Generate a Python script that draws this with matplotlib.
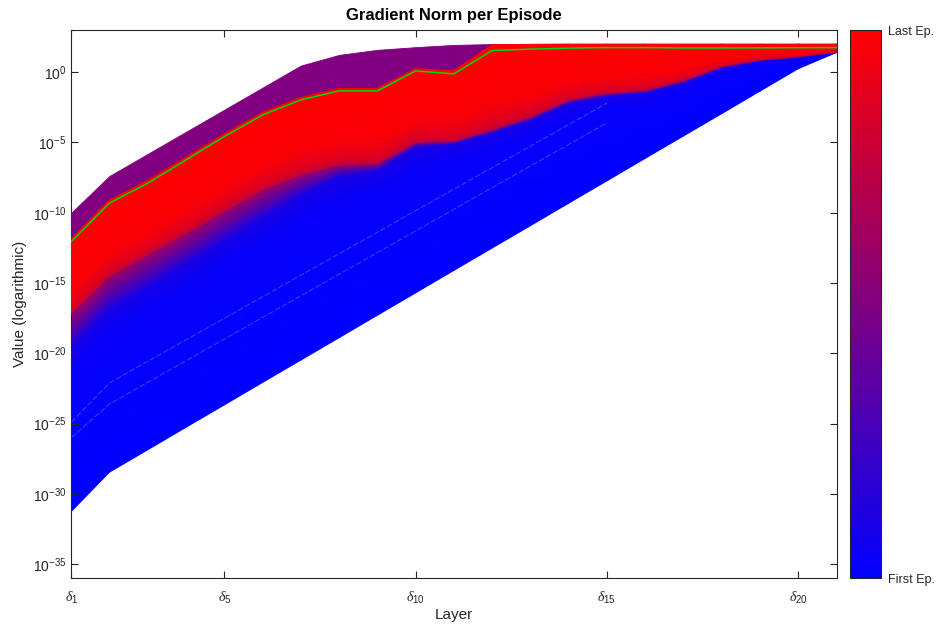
import numpy as np
import matplotlib
matplotlib.use("Agg")
import matplotlib as mpl
import matplotlib.pyplot as plt
from matplotlib.colors import LinearSegmentedColormap, Normalize
from matplotlib.ticker import NullLocator

plt.rcParams['font.family'] = ['Liberation Sans', 'DejaVu Sans']
plt.rcParams['mathtext.fontset'] = 'custom'
plt.rcParams['mathtext.rm'] = 'Liberation Sans'
plt.rcParams['mathtext.it'] = 'Liberation Serif:italic'
plt.rcParams['mathtext.bf'] = 'Liberation Sans:bold'

# ---------------- data (log10 of gradient norm per layer) ----------------
layers = np.arange(1, 22)
layer_ticks = [1, 5, 10, 15, 20]
layer_tick_labels = [r'$\delta_{\mathrm{%d}}$' % k for k in layer_ticks]
ytick_exponents = [0, -5, -10, -15, -20, -25, -30, -35]
ytick_labels = [r'$\mathrm{10^{%d}}$' % e for e in ytick_exponents]
colorbar_labels = ['First Ep.', 'Last Ep.']

# lowest curve (first episodes, blue)
first_ep_log10 = [-31.25, -28.45, -26.86, -25.26, -23.67, -22.07, -20.48,
                  -18.89, -17.29, -15.70, -14.10, -12.51, -10.92, -9.32,
                  -7.73, -6.13, -4.54, -2.95, -1.35, 0.25, 1.40]
# upper edge of the blue episodes / start of the mid (purple) episodes
mid_ep_low_log10 = [-19.5, -16.8, -15.2, -13.6, -11.9, -10.3, -8.7, -7.4,
                    -7.0, -5.3, -5.1, -4.3, -3.4, -2.2, -1.7, -1.45, -0.75,
                    0.3, 0.82, 1.07, 1.42]
# lower edge of the late (red) episodes
late_ep_low_log10 = [-17.2, -14.55, -13.0, -11.5, -9.9, -8.4, -7.3, -6.6,
                     -6.5, -5.0, -4.9, -4.1, -3.2, -2.0, -1.5, -1.3, -0.6,
                     0.4, 0.88, 1.11, 1.45]
# upper edge of the late (red) episodes
late_ep_high_log10 = [-11.85, -9.1, -7.7, -6.05, -4.4, -2.85, -1.8, -1.15,
                      -1.15, 0.25, 0.1, 1.95, 1.98, 2.0, 2.0, 2.0, 2.0, 2.0,
                      2.0, 2.0, 2.0]
# upper envelope of all episodes (mid episodes, purple)
all_ep_high_log10 = [-10.0, -7.38, -5.81, -4.24, -2.67, -1.1, 0.47, 1.23,
                     1.59, 1.78, 1.94, 2.0, 2.0, 2.0, 2.0, 2.0, 2.0, 2.0,
                     2.0, 2.0, 2.0]
# last episode (highlighted in green)
last_ep_log10 = [-12.06, -9.3, -7.9, -6.24, -4.58, -3.04, -1.97, -1.33,
                 -1.33, 0.09, -0.12, 1.54, 1.64, 1.71, 1.75, 1.75, 1.72,
                 1.72, 1.73, 1.74, 1.75]
# faint gaps between dense early-episode lines (light streaks)
streak_layers = [1, 2, 15]
streak_a_log10 = [-24.9, -22.1, -2.2]
streak_b_log10 = [-26.0, -23.6, -3.6]

# ---------------- figure ----------------
W, H = 938, 633
fig = plt.figure(figsize=(W / 100, H / 100), dpi=100)
ax_l, ax_r, ax_t, ax_b = 71.2, 836.5, 30.0, 578.3
ax = fig.add_axes([ax_l / W, 1 - ax_b / H, (ax_r - ax_l) / W, (ax_b - ax_t) / H])
ax.set_yscale('log')

cmap = LinearSegmentedColormap.from_list('episodes', [(0, 0, 1), (1, 0, 0)])
fg = '#262626'


def band(lo, hi, fracs, tvals, z):
    lo = np.asarray(lo, float)
    hi = np.asarray(hi, float)
    f = np.asarray(fracs, float)[:, None]
    Y = 10.0 ** (lo[None, :] + f * (hi - lo)[None, :])
    X = np.broadcast_to(layers, Y.shape).astype(float)
    C = np.broadcast_to(np.asarray(tvals, float)[:, None], Y.shape)
    ax.pcolormesh(X, Y, C, shading='gouraud', cmap=cmap, vmin=0, vmax=1,
                  zorder=z, antialiased=True)


# early (blue) episodes
band(first_ep_log10, mid_ep_low_log10, [0, 0.85, 1.0], [0.0, 0.02, 0.1], 1)
# faint streaks inside the blue region
for s in (streak_a_log10, streak_b_log10):
    ax.plot(streak_layers, 10.0 ** np.array(s), color='white', lw=0.7,
            alpha=0.25, ls=(0, (6, 2)), zorder=1.5)
# mid episodes below the red ones
band(mid_ep_low_log10, late_ep_low_log10, [0, 1.0], [0.12, 0.62], 2)
# mid episodes above the red ones (purple)
ax.fill_between(layers, 10.0 ** np.array(late_ep_low_log10),
                10.0 ** np.array(all_ep_high_log10),
                color=cmap(0.5), lw=0.6, edgecolor=cmap(0.5), zorder=3)
# late (red) episodes
band(late_ep_low_log10, late_ep_high_log10, [0, 0.08, 0.3, 1.0],
     [0.74, 0.87, 0.97, 1.0], 4)
# last episode
ax.plot(layers, 10.0 ** np.array(last_ep_log10), color=(0, 0.85, 0),
        lw=1.1, zorder=5)

ax.set_xlim(1, 21)
ax.set_ylim(1e-36, 1e3)
ax.set_xticks(layer_ticks)
ax.set_xticklabels(layer_tick_labels, fontsize=12)
ax.set_yticks([10.0 ** e for e in ytick_exponents])
ax.set_yticklabels(ytick_labels)
ax.yaxis.set_minor_locator(NullLocator())
ax.xaxis.set_minor_locator(NullLocator())
ax.tick_params(direction='in', top=True, right=True, length=5, width=0.8,
               color=fg, labelcolor=fg, labelsize=10)
ax.tick_params(axis='x', pad=8)
for s in ax.spines.values():
    s.set_color(fg)
    s.set_linewidth(0.8)

ax.set_title('Gradient Norm per Episode', fontsize=12, fontweight='bold',
             color='black', pad=7)
ax.set_xlabel('Layer', fontsize=11, color=fg, labelpad=2)
ax.set_ylabel('Value (logarithmic)', fontsize=11, color=fg, labelpad=4)

# colorbar
cb_l, cb_r = 850.0, 881.0
cax = fig.add_axes([cb_l / W, 1 - ax_b / H, (cb_r - cb_l) / W, (ax_b - ax_t) / H])
cb = mpl.colorbar.ColorbarBase(cax, cmap=cmap, norm=Normalize(0, 1),
                               ticks=[0, 1])
cb.set_ticklabels(colorbar_labels)
cax.tick_params(length=0, labelsize=9, colors=fg, pad=5)
cb.outline.set_edgecolor(fg)
cb.outline.set_linewidth(0.8)

fig.savefig('out.png', dpi=100, facecolor='white')
